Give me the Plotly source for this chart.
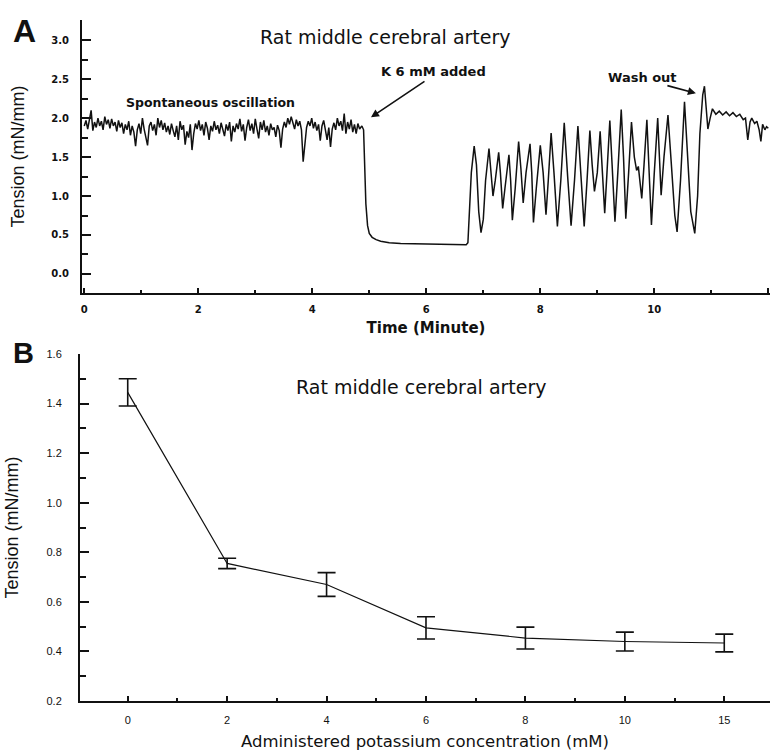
import plotly.graph_objects as go

# ---------------- Panel A data: tension trace ----------------
time_min = [
    0.00, 0.03, 0.06, 0.09, 0.12, 0.15, 0.18, 0.21, 0.24, 0.27, 0.30, 0.33, 0.36, 0.39, 0.42, 0.45,
    0.48, 0.51, 0.54, 0.57, 0.60, 0.63, 0.66, 0.69, 0.72, 0.75, 0.78, 0.81, 0.84, 0.87, 0.90, 0.93,
    0.96, 0.99, 1.02, 1.05, 1.08, 1.11, 1.14, 1.17, 1.20, 1.23, 1.26, 1.29, 1.32, 1.35, 1.38, 1.41,
    1.44, 1.47, 1.50, 1.53, 1.56, 1.59, 1.62, 1.65, 1.68, 1.71, 1.74, 1.77, 1.80, 1.83, 1.86, 1.89,
    1.92, 1.95, 1.98, 2.01, 2.04, 2.07, 2.10, 2.13, 2.16, 2.19, 2.22, 2.25, 2.28, 2.31, 2.34, 2.37,
    2.40, 2.43, 2.46, 2.49, 2.52, 2.55, 2.58, 2.61, 2.64, 2.67, 2.70, 2.73, 2.76, 2.79, 2.82, 2.85,
    2.88, 2.91, 2.94, 2.97, 3.00, 3.03, 3.06, 3.09, 3.12, 3.15, 3.18, 3.21, 3.24, 3.27, 3.30, 3.33,
    3.36, 3.39, 3.42, 3.45, 3.48, 3.51, 3.54, 3.57, 3.60, 3.63, 3.66, 3.69, 3.72, 3.75, 3.78, 3.81,
    3.84, 3.87, 3.90, 3.93, 3.96, 3.99, 4.02, 4.05, 4.08, 4.11, 4.14, 4.17, 4.20, 4.23, 4.26, 4.29,
    4.32, 4.35, 4.38, 4.41, 4.44, 4.47, 4.50, 4.53, 4.56, 4.59, 4.62, 4.65, 4.68, 4.71, 4.74, 4.77,
    4.80, 4.83, 4.87, 4.90, 4.92, 4.94, 4.97, 5.00, 5.05, 5.12, 5.20, 5.35, 5.55, 5.80, 6.10, 6.40,
    6.70, 6.73, 6.76, 6.79, 6.84, 6.88, 6.92, 6.96, 7.00, 7.04, 7.10, 7.14, 7.17, 7.21, 7.27, 7.30,
    7.34, 7.38, 7.45, 7.48, 7.51, 7.56, 7.62, 7.66, 7.70, 7.75, 7.82, 7.85, 7.88, 7.93, 8.00, 8.05,
    8.10, 8.14, 8.19, 8.24, 8.30, 8.36, 8.42, 8.48, 8.54, 8.60, 8.66, 8.71, 8.77, 8.82, 8.87, 8.91,
    8.95, 9.00, 9.05, 9.09, 9.13, 9.17, 9.22, 9.26, 9.31, 9.36, 9.42, 9.46, 9.50, 9.55, 9.60, 9.65,
    9.69, 9.72, 9.78, 9.82, 9.87, 9.91, 9.95, 10.00, 10.06, 10.09, 10.12, 10.17, 10.24, 10.30, 10.36, 10.40,
    10.46, 10.53, 10.58, 10.64, 10.71, 10.76, 10.80, 10.85, 10.88, 10.91, 10.94, 10.98, 11.02, 11.08, 11.14, 11.20,
    11.26, 11.32, 11.38, 11.44, 11.50, 11.56, 11.60, 11.64, 11.68, 11.71, 11.76, 11.80, 11.84, 11.87, 11.90, 11.94,
    11.97, 12.00,
]
tension_trace = [
    1.90, 1.97, 1.86, 1.98, 2.10, 1.84, 1.95, 1.88, 2.00, 1.90, 1.96, 1.85, 2.02, 1.92, 1.98, 1.87,
    1.99, 1.90, 1.95, 1.83, 1.97, 1.88, 1.94, 1.80, 1.92, 1.85, 1.96, 1.78, 1.90, 1.82, 1.64, 1.85,
    1.93, 1.80, 2.00, 1.86, 1.74, 1.65, 1.90, 1.95, 1.84, 1.92, 1.78, 2.00, 1.88, 1.97, 1.85, 1.94,
    1.82, 1.90, 1.79, 1.93, 1.84, 1.76, 1.90, 1.72, 1.96, 1.85, 1.91, 1.66, 1.83, 1.75, 1.92, 1.59,
    1.80, 1.93, 1.86, 1.97, 1.84, 1.92, 1.78, 1.95, 1.87, 1.72, 1.90, 1.83, 1.96, 1.85, 1.91, 1.80,
    1.94, 1.86, 1.77, 1.92, 1.84, 1.95, 1.70, 1.90, 1.82, 1.93, 1.86, 1.99, 1.83, 1.92, 1.71, 1.88,
    1.98, 1.84, 1.93, 1.80, 1.99, 1.86, 1.74, 1.95, 1.85, 1.97, 1.82, 1.90, 1.78, 1.93, 1.85, 1.88,
    1.76, 1.91, 1.84, 1.62, 1.86, 1.95, 1.88, 2.00, 1.92, 2.02, 1.95, 1.86, 1.98, 1.90, 1.96, 1.85,
    1.44, 1.70, 1.88, 1.96, 1.90, 2.00, 1.87, 1.95, 1.84, 1.92, 1.71, 1.90, 1.97, 1.85, 1.72, 1.88,
    1.63, 1.86, 1.94, 1.85, 2.00, 1.90, 1.96, 1.84, 2.06, 1.80, 1.95, 1.86, 1.98, 1.82, 1.92, 1.80,
    1.93, 1.86, 1.90, 1.85, 1.40, 0.90, 0.62, 0.52, 0.47, 0.44, 0.42, 0.40, 0.39, 0.385, 0.38, 0.375,
    0.375, 0.40, 0.80, 1.30, 1.64, 1.40, 0.80, 0.53, 0.70, 1.20, 1.61, 1.30, 1.00, 1.20, 1.56, 1.30,
    0.84, 1.10, 1.53, 1.20, 0.69, 1.10, 1.70, 1.35, 0.91, 1.30, 1.67, 1.30, 0.66, 1.10, 1.65, 1.30,
    0.76, 1.20, 1.81, 1.30, 0.61, 1.20, 1.94, 1.25, 0.62, 1.20, 1.90, 1.30, 0.61, 1.20, 1.84, 1.40,
    1.06, 1.30, 1.83, 1.30, 0.78, 1.30, 1.97, 1.40, 0.67, 1.30, 2.11, 1.50, 0.71, 1.30, 1.95, 1.50,
    1.33, 1.38, 0.97, 1.40, 1.98, 1.30, 0.63, 1.30, 2.00, 1.50, 1.01, 1.50, 2.04, 1.40, 0.75, 0.54,
    1.20, 2.21, 1.60, 0.80, 0.52, 1.00, 1.80, 2.30, 2.41, 2.10, 1.86, 2.00, 2.12, 2.05, 2.09, 2.04,
    2.08, 2.03, 2.07, 2.02, 2.05, 1.98, 2.00, 1.72, 1.95, 2.00, 1.93, 1.96, 1.85, 1.70, 1.92, 1.85,
    1.89, 1.87,
]
a_xticks = [0, 2, 4, 6, 8, 10, 12]
a_yticks = [0.0, 0.5, 1.0, 1.5, 2.0, 2.5, 3.0]
a_yticklabels = ["0.0", "0.5", "1.0", "1.5", "2.0", "2.5", "3.0"]

# ---------------- Panel B data ----------------
conc_labels = ["0", "2", "4", "6", "8", "10", "15"]
tension_mean = [1.445, 0.755, 0.670, 0.495, 0.454, 0.440, 0.434]
tension_err = [0.055, 0.021, 0.048, 0.045, 0.044, 0.038, 0.036]
b_yticks = [0.2, 0.4, 0.6, 0.8, 1.0, 1.2, 1.4, 1.6]
b_yticklabels = ["0.2", "0.4", "0.6", "0.8", "1.0", "1.2", "1.4", "1.6"]

W, H = 770, 751
def px_x(p):
    return p / W
def px_y(p):
    return 1 - p / H

idx = list(range(len(conc_labels)))

fig = go.Figure()
fig.add_trace(go.Scatter(x=time_min, y=tension_trace, mode="lines",
                         line=dict(color="#111", width=1.5), xaxis="x", yaxis="y",
                         showlegend=False, hoverinfo="skip"))
fig.add_trace(go.Scatter(x=idx, y=tension_mean, mode="lines",
                         line=dict(color="#111", width=1.2), xaxis="x2", yaxis="y2",
                         error_y=dict(type="data", array=tension_err, visible=True,
                                      color="#111", thickness=1.6, width=9),
                         showlegend=False, hoverinfo="skip"))

tickfont_a = dict(family="DejaVu Sans", size=10, color="#111", weight="bold")
tickfont_b = dict(family="Liberation Sans", size=11, color="#111")
ytitle_font = dict(family="Liberation Sans Narrow, Liberation Sans", size=18, color="#111")

fig.update_layout(
    width=W, height=H, autosize=False,
    margin=dict(l=0, r=0, t=0, b=0),
    paper_bgcolor="white", plot_bgcolor="white",
    xaxis=dict(domain=[px_x(82), 1.0], anchor="y", range=[-0.04, 12.03],
               tickvals=a_xticks, ticks="inside", ticklen=5, tickwidth=1.5, tickcolor="#111",
               minor=dict(dtick=1, tick0=0, ticks="inside", ticklen=3, tickcolor="#111"),
               showline=True, linewidth=2, linecolor="#111", showgrid=False, zeroline=False,
               tickfont=tickfont_a, ticklabelstandoff=6, automargin=False,
               title=dict(text="Time (Minute)", font=dict(family="DejaVu Sans", size=15, color="#111", weight="bold"), standoff=8)),
    yaxis=dict(domain=[px_y(293), px_y(20)], anchor="x", range=[-0.245, 3.26],
               tickvals=a_yticks, ticktext=a_yticklabels, ticks="inside", ticklen=9, tickwidth=1.5,
               tickcolor="#111",
               minor=dict(dtick=0.25, tick0=0, ticks="inside", ticklen=6, tickcolor="#111"),
               showline=True, linewidth=2, linecolor="#111", showgrid=False, zeroline=False,
               tickfont=tickfont_a, ticklabelstandoff=9, automargin=False,
               title=dict(text="Tension (mN/mm)", font=ytitle_font, standoff=22)),
    xaxis2=dict(domain=[px_x(80), 1.0], anchor="y2", range=[-0.48, 6.46],
                tickvals=idx, ticktext=conc_labels, ticks="inside", ticklen=5, tickwidth=1.5, tickcolor="#111",
                minor=dict(dtick=0.5, tick0=0, ticks="inside", ticklen=3, tickcolor="#111"),
                showline=True, linewidth=2, linecolor="#111", showgrid=False, zeroline=False,
                tickfont=tickfont_b, ticklabelstandoff=8, automargin=False,
                title=dict(text="Administered potassium concentration (mM)", font=dict(family="DejaVu Sans", size=16.5, color="#111"), standoff=14)),
    yaxis2=dict(domain=[px_y(701), px_y(354)], anchor="x2", range=[0.2, 1.6],
                tickvals=b_yticks, ticktext=b_yticklabels, ticks="inside", ticklen=9, tickwidth=1.5,
                tickcolor="#111",
                minor=dict(dtick=0.1, tick0=0.2, ticks="inside", ticklen=6, tickcolor="#111"),
                showline=True, linewidth=2, linecolor="#111", showgrid=False, zeroline=False,
                tickfont=tickfont_b, ticklabelstandoff=14, automargin=False,
                title=dict(text="Tension (mN/mm)", font=ytitle_font, standoff=23)),
)

annots = [
    dict(text="<b>A</b>", x=px_x(25), y=px_y(31), font=dict(family="Liberation Sans", size=32, color="#111")),
    dict(text="<b>B</b>", x=px_x(23), y=px_y(353), font=dict(family="Liberation Sans", size=29, color="#111")),
    dict(text="Rat middle cerebral artery", x=px_x(386), y=px_y(37), font=dict(family="DejaVu Sans", size=19, color="#111")),
    dict(text="Rat middle cerebral artery", x=px_x(421), y=px_y(387), font=dict(family="DejaVu Sans", size=19, color="#111")),
    dict(text="<b>Spontaneous oscillation</b>", x=px_x(211), y=px_y(103), font=dict(family="DejaVu Sans", size=12.5, color="#111")),
    dict(text="<b>K 6 mM added</b>", x=px_x(433), y=px_y(72), font=dict(family="DejaVu Sans", size=13, color="#111")),
    dict(text="<b>Wash out</b>", x=px_x(642), y=px_y(77), font=dict(family="DejaVu Sans", size=13, color="#111")),
]
for a in annots:
    fig.add_annotation(xref="paper", yref="paper", showarrow=False, xanchor="center", yanchor="middle", **a)

# arrows (head positions in data coordinates of panel A)
fig.add_annotation(xref="x", yref="y", x=5.03, y=2.01, ax=55, ay=-37, text="", showarrow=True,
                   arrowhead=2, arrowsize=1, arrowwidth=1.6, arrowcolor="#111")
fig.add_annotation(xref="x", yref="y", x=10.73, y=2.32, ax=-30, ay=-8, text="", showarrow=True,
                   arrowhead=2, arrowsize=1, arrowwidth=1.6, arrowcolor="#111")

# remove the browser's default 8 px body margin so the figure fills the window exactly
fig.write_html("out.html", config={"displayModeBar": False},
               post_script="document.body.style.margin='0';document.body.style.overflow='hidden';")
